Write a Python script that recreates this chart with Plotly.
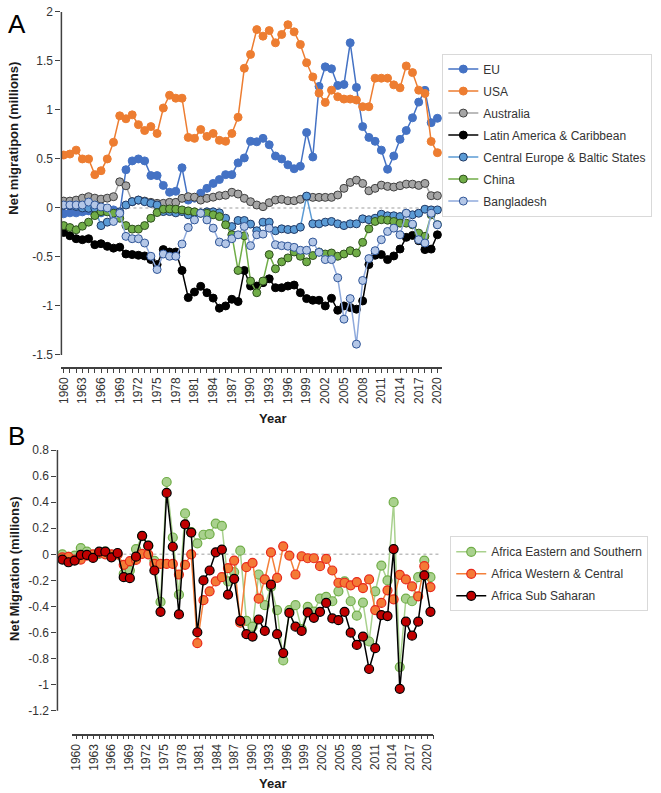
import plotly.graph_objects as go

W, H = 661, 793

YEARS = list(range(1960, 2021))
TICK_YEARS = list(range(1960, 2021, 3))

# ---------------- Panel A data (millions) ----------------
EU = [-0.06, -0.05, -0.05, -0.04, -0.03, -0.02, -0.05, -0.03, -0.02, -0.05,
      0.39, 0.48, 0.50, 0.48, 0.33, 0.33, 0.23, 0.16, 0.17, 0.41,
      0.08, 0.10, 0.15, 0.20, 0.25, 0.29, 0.34, 0.34, 0.46, 0.51,
      0.68, 0.675, 0.71, 0.645, 0.53, 0.50, 0.44, 0.40, 0.425, 0.77,
      0.52, 1.24, 1.44, 1.42, 1.25, 1.26, 1.685, 1.23, 0.83, 0.72,
      0.68, 0.59, 0.395, 0.53, 0.70, 0.79, 0.92, 1.08, 1.20, 0.87, 0.915]
USA = [0.54, 0.55, 0.59, 0.50, 0.50, 0.34, 0.38, 0.50, 0.67, 0.94,
       0.91, 0.95, 0.85, 0.79, 0.83, 0.76, 1.02, 1.15, 1.12, 1.12,
       0.72, 0.71, 0.80, 0.73, 0.76, 0.69, 0.68, 0.76, 0.925, 1.425,
       1.567, 1.82, 1.753, 1.81, 1.685, 1.77, 1.87, 1.797, 1.668, 1.482,
       1.337, 1.172, 1.077, 1.202, 1.135, 1.111, 1.111, 1.101, 1.033, 1.033,
       1.324, 1.324, 1.324, 1.256, 1.226, 1.449, 1.381, 1.202, 1.168, 0.679, 0.564]
AUSTRALIA = [0.07, 0.07, 0.08, 0.10, 0.115, 0.10, 0.09, 0.10, 0.115, 0.267,
             0.226, 0.064, 0.08, 0.07, 0.057, 0.047, 0.047, 0.057, 0.057, 0.098,
             0.115, 0.11, 0.08, 0.098, 0.11, 0.125, 0.13, 0.16, 0.142, 0.098,
             0.064, 0.03, 0.013, 0.054, 0.081, 0.088, 0.074, 0.074, 0.088, 0.115,
             0.108, 0.108, 0.108, 0.108, 0.132, 0.20, 0.26, 0.284, 0.25, 0.175,
             0.20, 0.233, 0.22, 0.213, 0.227, 0.243, 0.243, 0.23, 0.25, 0.125, 0.125]
LATAM = [-0.25, -0.284, -0.314, -0.324, -0.314, -0.375, -0.365, -0.392, -0.41, -0.40,
         -0.47, -0.476, -0.483, -0.49, -0.527, -0.578, -0.425, -0.45, -0.45, -0.638,
         -0.915, -0.858, -0.80, -0.865, -0.92, -1.023, -1.0, -0.932, -0.955, -0.638,
         -0.797, -0.797, -0.763, -0.723, -0.814, -0.814, -0.797, -0.787, -0.865, -0.925,
         -0.942, -0.942, -1.0, -0.922, -1.044, -1.0, -1.016, -1.033, -0.949, -0.578,
         -0.483, -0.476, -0.527, -0.49, -0.419, -0.30, -0.28, -0.334, -0.425, -0.42, -0.274]
CEB = [0.024, 0.024, 0.015, 0.0, -0.003, -0.003, -0.18, -0.145, -0.078, -0.04,
       0.03, 0.064, 0.08, 0.064, 0.047, 0.03, -0.037, -0.037, -0.05, -0.037,
       -0.07, -0.05, -0.05, -0.04, -0.04, -0.05, -0.105, -0.19, -0.128, -0.128,
       -0.165, -0.233, -0.145, -0.145, -0.233, -0.213, -0.22, -0.22, -0.196, 0.121,
       -0.162, -0.162, -0.145, -0.138, -0.162, -0.18, -0.162, -0.162, -0.111, -0.12,
       -0.105, -0.064, -0.08, -0.08, -0.088, -0.054, -0.07, -0.054, -0.013, -0.02, -0.02]
CHINA = [-0.18, -0.20, -0.223, -0.186, -0.145, -0.078, -0.037, -0.04, -0.054, -0.105,
         -0.18, -0.216, -0.216, -0.18, -0.105, -0.047, -0.013, -0.01, -0.013, -0.02,
         -0.03, -0.04, -0.054, -0.054, -0.07, -0.088, -0.172, -0.274, -0.638, -0.284,
         -0.746, -0.865, -0.746, -0.476, -0.621, -0.55, -0.51, -0.449, -0.493, -0.55,
         -0.486, -0.449, -0.47, -0.46, -0.493, -0.47, -0.436, -0.459, -0.351, -0.213,
         -0.138, -0.12, -0.125, -0.138, -0.155, -0.155, -0.172, -0.257, -0.29, -0.07, -0.17]
BANGLADESH = [0.03, 0.03, 0.03, 0.03, 0.06, 0.03, 0.01, 0.0, -0.138, -0.054,
              -0.29, -0.314, -0.314, -0.358, -0.493, -0.628, -0.47, -0.493, -0.493, -0.368,
              -0.20, -0.122, -0.054, -0.122, -0.206, -0.348, -0.365, -0.314, -0.274, -0.189,
              -0.385, -0.274, -0.267, -0.206, -0.375, -0.385, -0.39, -0.402, -0.432, -0.432,
              -0.348, -0.453, -0.527, -0.527, -0.713, -1.135, -0.925, -1.39, -0.74, -0.517,
              -0.436, -0.324, -0.24, -0.206, -0.274, -0.054, -0.165, -0.324, -0.358, -0.054, -0.172]

# ---------------- Panel B data (millions) ----------------
AFR_EAST = [0.0, -0.02, -0.01, 0.048, 0.02, -0.02, 0.003, 0.02, -0.01, 0.0,
            -0.15, -0.124, 0.04, 0.14, 0.066, -0.05, -0.365, 0.555, 0.129, -0.31,
            0.314, 0.17, 0.084, 0.15, 0.155, 0.236, 0.218, -0.208, -0.137, 0.028,
            -0.51, -0.555, -0.155, -0.39, -0.25, -0.428, -0.814, -0.428, -0.39, -0.573,
            -0.403, -0.44, -0.34, -0.327, -0.36, -0.284, -0.208, -0.36, -0.471, -0.37,
            -0.669, -0.284, -0.086, -0.20, 0.40, -0.865, -0.34, -0.36, -0.175, -0.048, -0.175]
AFR_WEST = [-0.023, -0.02, -0.04, -0.04, -0.01, 0.0, 0.01, 0.0, 0.0, 0.0,
            -0.081, -0.053, -0.043, 0.003, 0.0, -0.074, -0.074, -0.074, -0.074, -0.155,
            -0.081, 0.0, -0.682, -0.352, -0.284, -0.208, -0.175, -0.106, -0.048, -0.525,
            -0.099, -0.066, -0.34, -0.193, 0.015, -0.18, 0.061, -0.01, -0.155, -0.015,
            -0.03, -0.03, -0.091, -0.035, -0.124, -0.218, -0.218, -0.238, -0.213, -0.259,
            -0.193, -0.428, -0.373, -0.276, -0.345, -0.157, -0.193, -0.246, -0.322, -0.091, -0.251]
AFR_SS = [-0.04, -0.061, -0.048, -0.005, -0.005, -0.028, 0.02, 0.02, -0.023, 0.01,
          -0.175, -0.183, -0.018, 0.142, 0.066, -0.124, -0.441, 0.471, 0.058, -0.461,
          0.23, 0.167, -0.598, -0.20, -0.124, 0.015, 0.036, -0.31, -0.188, -0.51,
          -0.613, -0.631, -0.50, -0.588, -0.233, -0.613, -0.758, -0.449, -0.555, -0.588,
          -0.446, -0.487, -0.441, -0.373, -0.492, -0.505, -0.441, -0.601, -0.695, -0.631,
          -0.88, -0.72, -0.466, -0.474, 0.04, -1.032, -0.517, -0.624, -0.517, -0.162, -0.441]

A_TICKS = [-1.5, -1.0, -0.5, 0.0, 0.5, 1.0, 1.5, 2.0]
A_TICKTEXT = ["-1.5", "-1", "-0.5", "0", "0.5", "1", "1.5", "2"]
B_TICKS = [-1.2, -1.0, -0.8, -0.6, -0.4, -0.2, 0.0, 0.2, 0.4, 0.6, 0.8]
B_TICKTEXT = ["-1.2", "-1", "-0.8", "-0.6", "-0.4", "-0.2", "0", "0.2", "0.4", "0.6", "0.8"]

FONT = "Arial, Liberation Sans, sans-serif"
TXT = "#333333"
AX = "#404040"


def px(x):
    return x / W


def py(y):
    return 1 - y / H


fig = go.Figure()

series_a = [
    ("EU", EU, "#4472C4", "#4472C4", "#4472C4"),
    ("USA", USA, "#ED7D31", "#ED7D31", "#ED7D31"),
    ("Australia", AUSTRALIA, "#A5A5A5", "#A5A5A5", "#3F3F3F"),
    ("Latin America & Caribbean", LATAM, "#000000", "#000000", "#000000"),
    ("Central Europe & Baltic States", CEB, "#5B9BD5", "#5B9BD5", "#1F3864"),
    ("China", CHINA, "#70AD47", "#70AD47", "#2E4E1E"),
    ("Bangladesh", BANGLADESH, "#8FAADC", "#B4C7E7", "#2F5597"),
]
for name, vals, lc, fc, oc in series_a:
    fig.add_trace(go.Scatter(
        x=YEARS, y=vals, name=name, mode="lines+markers",
        line=dict(color=lc, width=1.5),
        marker=dict(size=8, color=fc, line=dict(color=oc, width=1)),
        xaxis="x", yaxis="y", legend="legend", legendgroup=name,
    ))

series_b = [
    ("Africa Eastern and Southern", AFR_EAST, "#A9D18E", "#A9D18E", "#70AD47"),
    ("Africa Western & Central", AFR_WEST, "#F4803A", "#F47A36", "#E8291C"),
    ("Africa Sub Saharan", AFR_SS, "#000000", "#C00000", "#000000"),
]
for name, vals, lc, fc, oc in series_b:
    fig.add_trace(go.Scatter(
        x=YEARS, y=vals, name=name, mode="lines+markers",
        line=dict(color=lc, width=1.5),
        marker=dict(size=9, color=fc, line=dict(color=oc, width=1.2)),
        xaxis="x2", yaxis="y2", legend="legend2", legendgroup=name,
    ))

# invisible carrier for the separate category axis of panel B
fig.add_trace(go.Scatter(x=TICK_YEARS, y=[0] * len(TICK_YEARS), mode="markers",
                         marker=dict(opacity=0), showlegend=False, hoverinfo="skip",
                         xaxis="x3", yaxis="y3"))

tickfont = dict(family=FONT, size=12, color=TXT)

fig.update_layout(
    width=W, height=H, margin=dict(l=0, r=0, t=0, b=0),
    paper_bgcolor="white", plot_bgcolor="rgba(0,0,0,0)",
    font=dict(family=FONT, color=TXT),
    # Panel A
    xaxis=dict(domain=[px(57), px(442)], range=[1959.635, 2020.79], anchor="y",
               showline=True, linecolor=AX, linewidth=1.5, showgrid=False, zeroline=False,
               tickmode="linear", tick0=1960, dtick=3, ticks="outside", ticklen=4,
               tickcolor=AX, tickangle=-90, tickfont=tickfont,
               minor=dict(ticks="outside", ticklen=4, dtick=1, tick0=1960, tickcolor=AX, showgrid=False)),
    yaxis=dict(domain=[py(363), py(5)], range=[-1.621, 2.0], anchor="x",
               showline=False, showgrid=False, zeroline=False,
               tickvals=A_TICKS, ticktext=A_TICKTEXT, ticks="outside", ticklen=5,
               tickcolor=AX, tickfont=tickfont),
    # Panel B (data axis hidden, labelled axis separate)
    xaxis2=dict(domain=[px(53), px(440)], range=[1959.194, 2021.613], anchor="y2",
                visible=False),
    yaxis2=dict(domain=[py(733), py(447)], range=[-1.375, 0.8], anchor="x2",
                showline=False, showgrid=False, zeroline=False,
                tickvals=B_TICKS, ticktext=B_TICKTEXT, ticks="outside", ticklen=5,
                tickcolor=AX, tickfont=tickfont),
    xaxis3=dict(domain=[px(68), px(433)], range=[1959.32, 2021.01], anchor="y3",
                showline=True, linecolor=AX, linewidth=1.5, showgrid=False, zeroline=False,
                tickmode="linear", tick0=1960, dtick=3, ticks="outside", ticklen=4,
                tickcolor=AX, tickangle=-90, tickfont=tickfont,
                minor=dict(ticks="outside", ticklen=4, dtick=1, tick0=1960, tickcolor=AX, showgrid=False)),
    yaxis3=dict(domain=[py(733), py(447)], range=[-1.375, 0.8], anchor="x3", visible=False),
    legend=dict(x=px(442), y=py(47), xanchor="left", yanchor="top",
                bordercolor="#D9D9D9", borderwidth=1, bgcolor="white",
                font=dict(family=FONT, size=12, color=TXT),
                traceorder="grouped", tracegroupgap=3),
    legend2=dict(x=px(450), y=py(534), xanchor="left", yanchor="top",
                 bordercolor="#D9D9D9", borderwidth=1, bgcolor="white",
                 font=dict(family=FONT, size=12, color=TXT),
                 traceorder="grouped", tracegroupgap=3),
    showlegend=True,
)

shapes = [
    dict(type="line", xref="paper", yref="y", x0=px(57), x1=px(57), y0=-1.5, y1=2.0,
         line=dict(color=AX, width=1.5)),
    dict(type="line", xref="x domain", yref="y", x0=0, x1=1, y0=0, y1=0,
         line=dict(color="#BFBFBF", width=1.5, dash="dot"), layer="below"),
    dict(type="line", xref="paper", yref="y2", x0=px(53), x1=px(53), y0=-1.2, y1=0.8,
         line=dict(color=AX, width=1.5)),
    dict(type="line", xref="x2 domain", yref="y2", x0=0, x1=1, y0=0, y1=0,
         line=dict(color="#BFBFBF", width=1.5, dash="dot"), layer="below"),
]
fig.update_layout(shapes=shapes)

bold = dict(family=FONT, size=13, color="#1a1a1a")


def label(text, x, y, font, angle=0):
    return dict(text=text, x=px(x), y=py(y), xref="paper", yref="paper",
                xanchor="center", yanchor="middle", showarrow=False,
                textangle=angle, font=font)


annotations = [
    label("A", 12, 17, dict(family=FONT, size=26, color="#000000")),
    label("B", 12, 433, dict(family=FONT, size=26, color="#000000")),
    label("<b>Net migratipon (millions)</b>", 9, 132, bold, -90),
    label("<b>Net Migration (millions)</b>", 10, 567, bold, -90),
    label("<b>Year</b>", 270, 415, bold),
    label("<b>Year</b>", 270, 783, bold),
]
fig.update_layout(annotations=annotations)

fig.write_html("out.html", config={"displayModeBar": False},
               post_script="document.body.style.margin='0px';document.body.style.overflow='hidden';")
